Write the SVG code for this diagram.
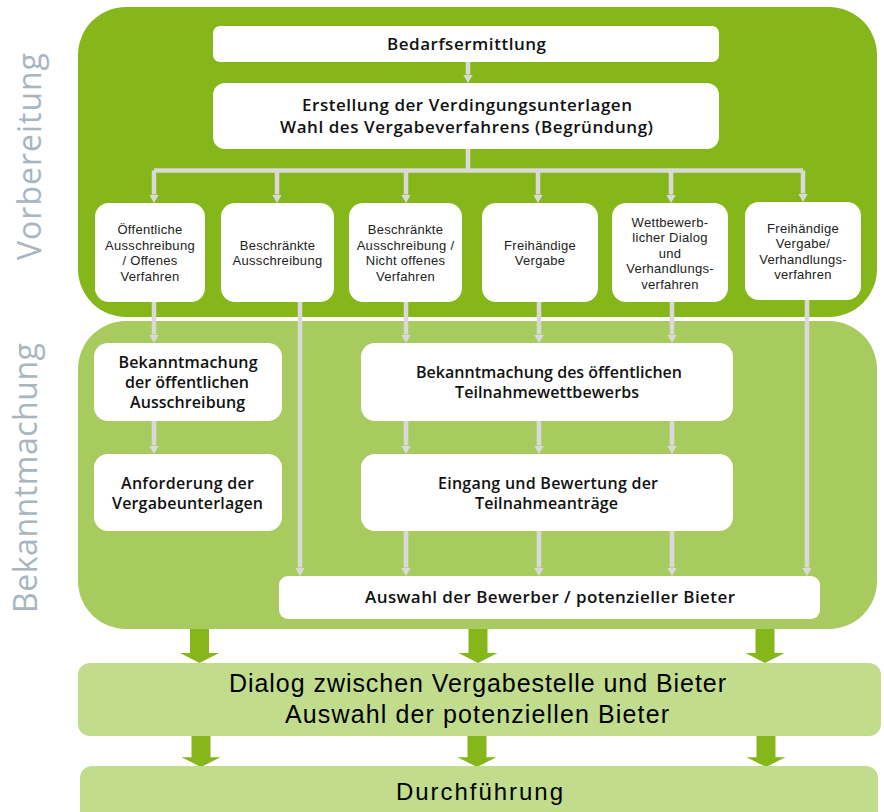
<svg xmlns="http://www.w3.org/2000/svg" xmlns:xlink="http://www.w3.org/1999/xlink" width="884" height="812" viewBox="0 0 884 812">
<style>
.p1{fill:#85b71a}
.p2{fill:#a8cb5f}
.p3{fill:#c1dc8d}
.box{fill:#ffffff}
.t{font-family:"Open Sans","Liberation Sans",sans-serif;font-weight:600;fill:#111;text-anchor:middle}
.s{font-family:"Liberation Sans",Arial,sans-serif;font-size:13px;letter-spacing:0.3px;fill:#222;text-anchor:middle}
.b{font-family:"Liberation Sans",Arial,sans-serif;fill:#000;text-anchor:middle}
.side{font-family:"Open Sans","Liberation Sans",sans-serif;font-size:32px;fill:#a9b5bf;text-anchor:middle}
.c{fill:none;stroke:#d9d9d9;stroke-width:4.5}
.big{fill:#85b71a}
</style>
<defs>
<marker id="ga" markerUnits="userSpaceOnUse" markerWidth="10" markerHeight="10" viewBox="0 0 10 10" refX="0" refY="5" orient="auto">
<path d="M0,0 L8.5,5 L0,10 z" fill="#d9d9d9"/>
</marker>
<path id="bigArrow" d="M-9.5,0 H9.5 V24 H19.5 L0,34 L-19.5,24 H-9.5 Z"/>
</defs>

<!-- phase panels -->
<g id="panel-vorbereitung">
<rect class="p1" x="78" y="7" width="799" height="310" rx="48"/>
<text class="side" transform="translate(41,156.5) rotate(-90)" textLength="207">Vorbereitung</text>
</g>
<g id="panel-bekanntmachung">
<rect class="p2" x="78" y="321" width="799" height="308" rx="48"/>
<text class="side" transform="translate(37,478) rotate(-90)" textLength="270">Bekanntmachung</text>
</g>

<!-- connectors -->
<g id="connectors">
<path class="c" d="M468,62 V74.5" marker-end="url(#ga)"/>
<path class="c" d="M468,149 V170.5"/>
<path class="c" d="M154,170.5 H803"/>
<path class="c" d="M154,170.5 V194.5" marker-end="url(#ga)"/>
<path class="c" d="M277,170.5 V194.5" marker-end="url(#ga)"/>
<path class="c" d="M406,170.5 V194.5" marker-end="url(#ga)"/>
<path class="c" d="M538,170.5 V194.5" marker-end="url(#ga)"/>
<path class="c" d="M671,170.5 V194.5" marker-end="url(#ga)"/>
<path class="c" d="M803,170.5 V193.5" marker-end="url(#ga)"/>
<path class="c" d="M154,302 V334.5" marker-end="url(#ga)"/>
<path class="c" d="M154,421 V445.5" marker-end="url(#ga)"/>
<path class="c" d="M300,302 V567.5" marker-end="url(#ga)"/>
<path class="c" d="M406,302 V334.5" marker-end="url(#ga)"/>
<path class="c" d="M406,421 V445.5" marker-end="url(#ga)"/>
<path class="c" d="M406,531 V567.5" marker-end="url(#ga)"/>
<path class="c" d="M539,302 V334.5" marker-end="url(#ga)"/>
<path class="c" d="M539,421 V445.5" marker-end="url(#ga)"/>
<path class="c" d="M539,531 V567.5" marker-end="url(#ga)"/>
<path class="c" d="M672,302 V334.5" marker-end="url(#ga)"/>
<path class="c" d="M672,421 V445.5" marker-end="url(#ga)"/>
<path class="c" d="M672,531 V567.5" marker-end="url(#ga)"/>
<path class="c" d="M807,300 V567.5" marker-end="url(#ga)"/>
<use class="big" xlink:href="#bigArrow" href="#bigArrow" transform="translate(199.5,629)"/>
<use class="big" xlink:href="#bigArrow" href="#bigArrow" transform="translate(478,629)"/>
<use class="big" xlink:href="#bigArrow" href="#bigArrow" transform="translate(765,629)"/>
<use class="big" xlink:href="#bigArrow" href="#bigArrow" transform="translate(201,734) scale(1,0.97)"/>
<use class="big" xlink:href="#bigArrow" href="#bigArrow" transform="translate(477,734) scale(1,0.97)"/>
<use class="big" xlink:href="#bigArrow" href="#bigArrow" transform="translate(766,734) scale(1,0.97)"/>
</g>

<!-- Vorbereitung nodes -->
<g id="n-bedarf">
<rect class="box" x="213" y="26" width="506" height="36" rx="7"/>
<text class="t" x="466.5" y="50" font-size="17" textLength="159">Bedarfsermittlung</text>
</g>
<g id="n-erstellung">
<rect class="box" x="213" y="83" width="506" height="66" rx="12"/>
<text class="t" x="467" y="111" font-size="17" textLength="330">Erstellung der Verdingungsunterlagen</text>
<text class="t" x="466.5" y="133" font-size="17" textLength="373">Wahl des Vergabeverfahrens (Begründung)</text>
</g>
<g id="n-oeffentlich">
<rect class="box" x="95" y="203" width="110" height="99" rx="14"/>
<text class="s" x="150" y="234">Öffentliche</text>
<text class="s" x="150" y="249.5">Ausschreibung</text>
<text class="s" x="150" y="265">/ Offenes</text>
<text class="s" x="150" y="280.5">Verfahren</text>
</g>
<g id="n-beschraenkt">
<rect class="box" x="221" y="203" width="113" height="99" rx="14"/>
<text class="s" x="277.5" y="249.5">Beschränkte</text>
<text class="s" x="277.5" y="265">Ausschreibung</text>
</g>
<g id="n-beschraenkt-nicht-offen">
<rect class="box" x="349" y="203" width="113" height="99" rx="14"/>
<text class="s" x="405.5" y="234">Beschränkte</text>
<text class="s" x="405.5" y="249.5">Ausschreibung /</text>
<text class="s" x="405.5" y="265">Nicht offenes</text>
<text class="s" x="405.5" y="280.5">Verfahren</text>
</g>
<g id="n-freihaendig">
<rect class="box" x="482" y="203" width="116" height="99" rx="14"/>
<text class="s" x="540" y="249.5">Freihändige</text>
<text class="s" x="540" y="265">Vergabe</text>
</g>
<g id="n-wettbewerb">
<rect class="box" x="612" y="203" width="116" height="99" rx="14"/>
<text class="s" x="670" y="226.5">Wettbewerb-</text>
<text class="s" x="670" y="241.5">licher Dialog</text>
<text class="s" x="670" y="257.5">und</text>
<text class="s" x="670" y="272.5">Verhandlungs-</text>
<text class="s" x="670" y="288.5">verfahren</text>
</g>
<g id="n-freihaendig-verhandlung">
<rect class="box" x="745" y="202" width="116" height="98" rx="14"/>
<text class="s" x="803" y="232.5">Freihändige</text>
<text class="s" x="803" y="247.5">Vergabe/</text>
<text class="s" x="803" y="263.5">Verhandlungs-</text>
<text class="s" x="803" y="278.5">verfahren</text>
</g>

<!-- Bekanntmachung nodes -->
<g id="n-bek-oeffentlich">
<rect class="box" x="94" y="343" width="188" height="78" rx="14"/>
<text class="t" x="188" y="368" font-size="16" textLength="139">Bekanntmachung</text>
<text class="t" x="187" y="388" font-size="16" textLength="124">der öffentlichen</text>
<text class="t" x="187.5" y="408" font-size="16" textLength="115">Ausschreibung</text>
</g>
<g id="n-anforderung">
<rect class="box" x="94" y="454" width="188" height="77" rx="14"/>
<text class="t" x="187.5" y="489" font-size="16" textLength="133">Anforderung der</text>
<text class="t" x="187.5" y="509" font-size="16" textLength="151">Vergabeunterlagen</text>
</g>
<g id="n-bek-teilnahme">
<rect class="box" x="361" y="343" width="372" height="78" rx="14"/>
<text class="t" x="549" y="378" font-size="16" textLength="266">Bekanntmachung des öffentlichen</text>
<text class="t" x="547" y="398" font-size="16" textLength="184">Teilnahmewettbewerbs</text>
</g>
<g id="n-eingang">
<rect class="box" x="361" y="454" width="372" height="77" rx="14"/>
<text class="t" x="548" y="489" font-size="16" textLength="220">Eingang und Bewertung der</text>
<text class="t" x="546.5" y="509" font-size="16" textLength="143">Teilnahmeanträge</text>
</g>
<g id="n-auswahl">
<rect class="box" x="279" y="576" width="541" height="43" rx="9"/>
<text class="t" x="550" y="603" font-size="17" textLength="370">Auswahl der Bewerber / potenzieller Bieter</text>
</g>

<!-- lower phases -->
<g id="n-dialog">
<rect class="p3" x="78" y="663" width="803" height="73" rx="12"/>
<text class="b" x="477.5" y="692" font-size="25" textLength="497">Dialog zwischen Vergabestelle und Bieter</text>
<text class="b" x="477" y="723" font-size="25" textLength="384">Auswahl der potenziellen Bieter</text>
</g>
<g id="n-durchfuehrung">
<rect class="p3" x="80" y="766" width="798" height="60" rx="12"/>
<text class="b" x="479.5" y="800" font-size="24" textLength="167">Durchführung</text>
</g>
</svg>
